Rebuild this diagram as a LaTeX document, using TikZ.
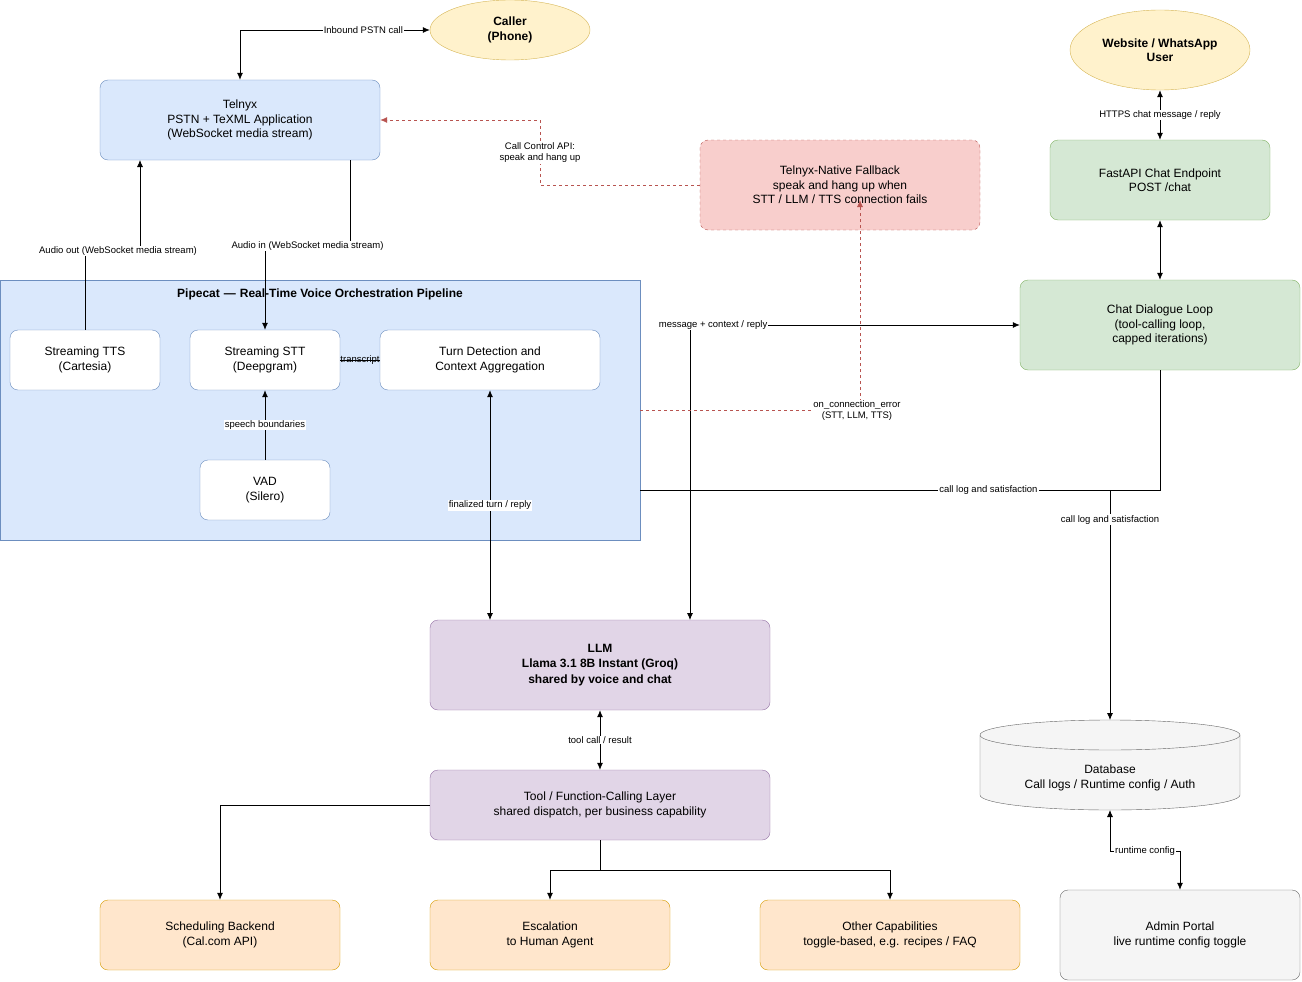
\documentclass[tikz,border=0pt]{standalone}
\usepackage{fontspec}
\setmainfont{Liberation Sans}
\usetikzlibrary{arrows.meta,shapes.geometric}
\definecolor{bluef}{HTML}{DAE8FC}\definecolor{blues}{HTML}{6C8EBF}
\definecolor{yelf}{HTML}{FFF2CC}\definecolor{yels}{HTML}{D6B656}
\definecolor{grnf}{HTML}{D5E8D4}\definecolor{grns}{HTML}{82B366}
\definecolor{redf}{HTML}{F8CECC}\definecolor{reds}{HTML}{B85450}
\definecolor{purf}{HTML}{E1D5E7}\definecolor{purs}{HTML}{9673A6}
\definecolor{orf}{HTML}{FFE6CC}\definecolor{ors}{HTML}{D79B00}
\definecolor{grf}{HTML}{F5F5F5}\definecolor{grs}{HTML}{666666}
\begin{document}
\begin{tikzpicture}[x=1pt,y=-1pt,
 box/.style={draw,rounded corners=8pt,align=center,font=\fontsize{12}{14.5}\selectfont,inner sep=0pt},
 lab/.style={font=\fontsize{9.5}{11}\selectfont,fill=white,inner sep=1pt,align=center},
 arr/.style={-{Latex[length=7pt,width=6pt]},thick},
 barr/.style={{Latex[length=7pt,width=6pt]}-{Latex[length=7pt,width=6pt]},thick},
 ln/.style={thick},
 rd/.style={draw=reds,dashed,thick}]
\useasboundingbox (0,0) rectangle (1302,982);
% pipeline container
\node[draw=blues,fill=bluef,minimum width=640pt,minimum height=260pt,inner sep=0pt] (pipe) at (320,410) {};
\node[font=\bfseries\fontsize{12}{14}\selectfont] (ptitle) at (320,294) {Pipecat\,\,—\,\,Real-Time Voice Orchestration Pipeline};
% nodes
\node[draw=yels,fill=yelf,ellipse,minimum width=160pt,minimum height=60pt,font=\bfseries\fontsize{12}{14.5}\selectfont,align=center] (caller) at (510,30) {Caller\\(Phone)};
\node[box,draw=blues,fill=bluef,minimum width=280pt,minimum height=80pt] (telnyx) at (240,120) {Telnyx\\PSTN + TeXML Application\\(WebSocket media stream)};
\node[box,draw=reds,fill=redf,dashed,minimum width=280pt,minimum height=90pt] (fb) at (840,185) {Telnyx-Native Fallback\\speak and hang up when\\STT / LLM / TTS connection fails};
\node[draw=yels,fill=yelf,ellipse,minimum width=180pt,minimum height=80pt,font=\bfseries\fontsize{12}{14.5}\selectfont,align=center] (web) at (1160,50) {Website / WhatsApp\\User};
\node[box,draw=grns,fill=grnf,minimum width=220pt,minimum height=80pt] (api) at (1160,180) {FastAPI Chat Endpoint\\POST /chat};
\node[box,draw=grns,fill=grnf,minimum width=280pt,minimum height=90pt] (loop) at (1160,325) {Chat Dialogue Loop\\(tool-calling loop,\\capped iterations)};
\node[box,draw=blues,fill=white,minimum width=150pt,minimum height=60pt] (tts) at (85,360) {Streaming TTS\\(Cartesia)};
\node[box,draw=blues,fill=white,minimum width=150pt,minimum height=60pt] (stt) at (265,360) {Streaming STT\\(Deepgram)};
\node[box,draw=blues,fill=white,minimum width=220pt,minimum height=60pt] (turn) at (490,360) {Turn Detection and\\Context Aggregation};
\node[box,draw=blues,fill=white,minimum width=130pt,minimum height=60pt] (vad) at (265,490) {VAD\\(Silero)};
\node[box,draw=purs,fill=purf,minimum width=340pt,minimum height=90pt,font=\bfseries\fontsize{12}{15.5}\selectfont] (llm) at (600,665) {LLM\\Llama 3.1 8B Instant (Groq)\\shared by voice and chat};
\node[box,draw=purs,fill=purf,minimum width=340pt,minimum height=70pt] (tool) at (600,805) {Tool / Function-Calling Layer\\shared dispatch, per business capability};
\node[box,draw=ors,fill=orf,minimum width=240pt,minimum height=70pt] (sched) at (220,935) {Scheduling Backend\\(Cal.com API)};
\node[box,draw=ors,fill=orf,minimum width=240pt,minimum height=70pt] (esc) at (550,935) {Escalation\\to Human Agent};
\node[box,draw=ors,fill=orf,minimum width=260pt,minimum height=70pt] (other) at (890,935) {Other Capabilities\\toggle-based, e.g. recipes / FAQ};
\node[box,draw=grs,fill=grf,minimum width=240pt,minimum height=90pt] (admin) at (1180,935) {Admin Portal\\live runtime config toggle};
% database cylinder (drawn directly)
\draw[draw=grs,fill=grf] (980,735) -- (980,795) arc[start angle=180,end angle=360,x radius=130,y radius=-15] -- (1240,735) arc[start angle=0,end angle=180,x radius=130,y radius=-15] -- cycle;
\draw[draw=grs] (980,735) arc[start angle=180,end angle=360,x radius=130,y radius=-15];
\node[font=\fontsize{12}{14.5}\selectfont,align=center] (db) at (1110,778) {Database\\Call logs / Runtime config / Auth};
\coordinate (dbtop) at (1110,720);
\coordinate (dbbot) at (1110,810);
% connectors
\draw[barr] (caller.west) -- (240,30) node[lab,pos=0.35]{Inbound PSTN call} -- (telnyx.north);
\draw[arr] (tts.north) -- (85,251) -- (140,251) node[lab,pos=0.6]{Audio out (WebSocket media stream)} -- (140,160);
\draw[arr] (350,160) -- (350,246) -- (265,246) node[lab,pos=0.5]{Audio in (WebSocket media stream)} -- (stt.north);
\draw[ln] (stt.east) -- (turn.west) node[lab,midway,fill=none]{transcript};
\draw[arr] (vad.north) -- (stt.south) node[lab,midway]{speech boundaries};
\draw[barr] (turn.south) -- (490,620) node[lab,pos=0.5]{finalized turn / reply};
\draw[barr] (690,620) -- (690,325) -- (loop.west) node[lab,pos=0.07]{message + context / reply};
\draw[rd,-{Latex[length=7pt,width=6pt]}] (640,410) -- (860,410) -- (860,200);
\node[font=\fontsize{9.5}{11}\selectfont,align=center,fill=white,inner sep=1pt] (oce) at (857,411) {on\_connection\_error\\(STT, LLM, TTS)};
\draw[rd,-{Latex[length=7pt,width=6pt]}] (fb.west) -- (540,185) -- (540,120) -- (telnyx.east);
\node[lab] (cc) at (540,153) {Call Control API:\\speak and hang up};
\draw[ln] (640,490) -- (1160,490) node[lab,pos=0.67]{call log and satisfaction} -- (loop.south);
\draw[arr] (1110,490) -- (dbtop) node[lab,pos=0.13]{call log and satisfaction};
\draw[barr] (web.south) -- (api.north) node[lab,midway]{HTTPS chat message / reply};
\draw[barr] (api.south) -- (loop.north);
\draw[barr] (llm.south) -- (tool.north) node[lab,midway]{tool call / result};
\draw[arr] (tool.west) -- (220,805) -- (sched.north);
\draw[arr] (tool.south) -- (600,870) -- (550,870) -- (esc.north);
\draw[arr] (600,870) -- (890,870) -- (other.north);
\draw[barr] (dbbot) -- (1110,851) -- (1180,851) node[lab,midway]{runtime config} -- (admin.north);
\end{tikzpicture}
\end{document}
